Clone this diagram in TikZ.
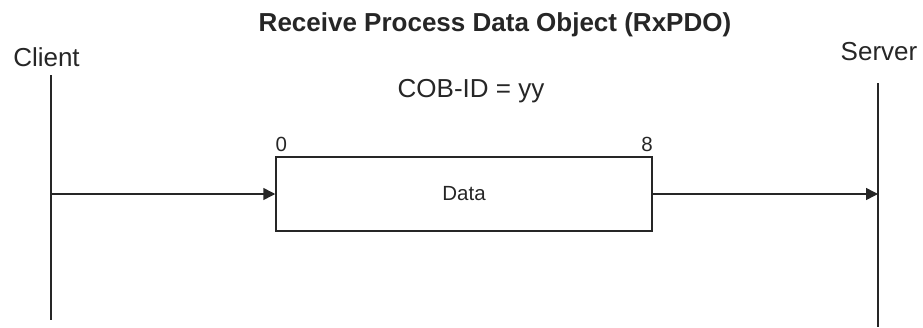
\documentclass[tikz,border=0pt]{standalone}
\usepackage{fontspec}
\setmainfont{Liberation Sans}
\usetikzlibrary{arrows.meta}
\begin{document}
\begin{tikzpicture}[x=1pt,y=-1pt,
  line/.style={line width=1.5pt, draw=black!85},
  arr/.style={line, -{Triangle[length=12pt,width=12pt]}},
  big/.style={font=\fontsize{26}{30}\selectfont, inner sep=0pt, text=black!85},
  small/.style={font=\fontsize{20.5}{24}\selectfont, inner sep=0pt, text=black!85}]
\useasboundingbox (0,0) rectangle (923,327);
% titles and labels
\node[big, anchor=base, font=\fontsize{26}{30}\selectfont\bfseries] (title) at (495,31.5) {Receive Process Data Object (RxPDO)};
\node[big, anchor=base] (clientlbl) at (46.5,66) {Client};
\node[big, anchor=base] (serverlbl) at (879,60) {Server};
\node[big, anchor=base] (cobid) at (471,97) {COB-ID = yy};
% lifelines
\coordinate (ctop) at (51,75);
\coordinate (cbot) at (51,320);
\coordinate (stop) at (878,83);
\coordinate (sbot) at (878,327);
\draw[line] (ctop) -- (cbot);
\draw[line] (stop) -- (sbot);
% data frame
\node[line, draw, small, minimum width=376pt, minimum height=74pt] (data) at (464,194) {Data};
\node[small, anchor=base west] (zero) at (275.5,151) {0};
\node[small, anchor=base east] (eight) at (653,151) {8};
% arrows
\coordinate (csend) at (51,194);
\coordinate (srecv) at (878,194);
\draw[arr] (csend) -- (data.west);
\draw[arr] (data.east) -- (srecv);
\end{tikzpicture}
\end{document}
